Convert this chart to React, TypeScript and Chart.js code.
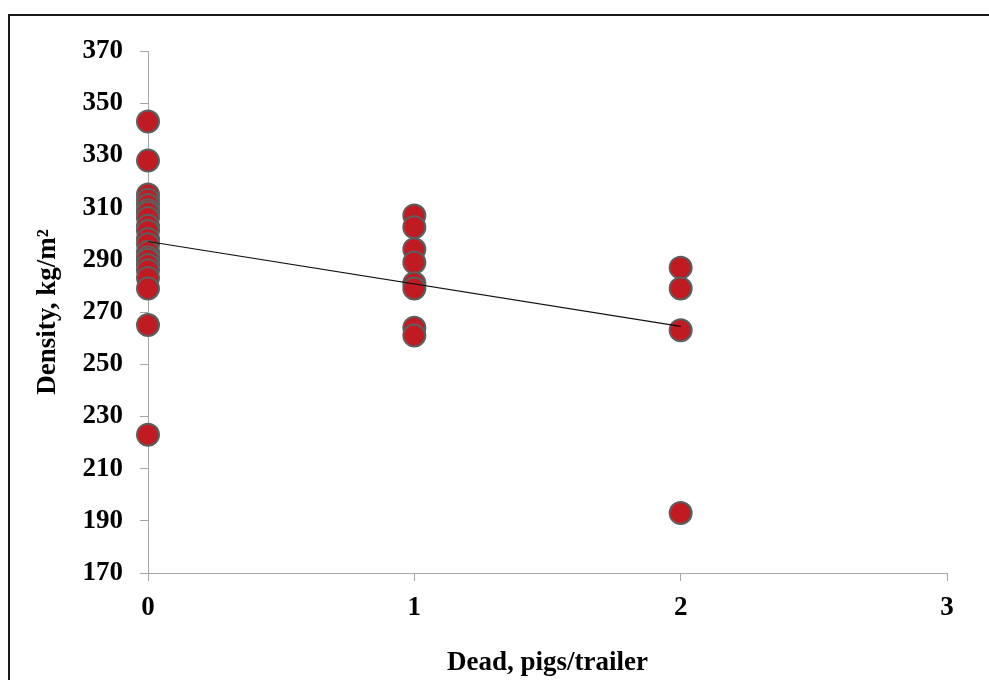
import React, { useEffect, useRef } from "react";
import { Chart, registerables } from "chart.js";

Chart.register(...registerables);

// Dead pigs per trailer (x) vs loading density (y)
const deadAt0: number[] = [343, 328, 315, 313, 311, 309, 308, 306, 303, 301, 298, 296, 293, 291, 290, 288, 286, 283, 279, 265, 223];
const deadAt1: number[] = [307, 302.5, 294, 289, 281, 279, 264, 261];
const deadAt2: number[] = [287, 279, 263, 193];
const trendX: number[] = [0, 2];
const trendY: number[] = [297, 264.5];
const xTicks: number[] = [0, 1, 2, 3];
const yTicks: number[] = [170, 190, 210, 230, 250, 270, 290, 310, 330, 350, 370];

const serif = "'Liberation Serif', 'Times New Roman', serif";

export default function App() {
  const ref = useRef<HTMLCanvasElement | null>(null);

  useEffect(() => {
    if (!ref.current) return;
    const pts = [
      ...deadAt0.map((y) => ({ x: 0, y })),
      ...deadAt1.map((y) => ({ x: 1, y })),
      ...deadAt2.map((y) => ({ x: 2, y })),
    ];
    const trend = trendX.map((x, i) => ({ x, y: trendY[i] }));
    const chart = new Chart(ref.current, {
      type: "scatter",
      data: {
        datasets: [
          {
            type: "line",
            data: trend,
            borderColor: "#111111",
            borderWidth: 1.2,
            pointRadius: 0,
            showLine: true,
            fill: false,
            clip: false as any,
          },
          {
            data: pts,
            backgroundColor: "#C01A22",
            borderColor: "#5E5E5E",
            borderWidth: 2,
            pointRadius: 11,
            clip: false as any,
          },
        ],
      },
      options: {
        animation: false,
        responsive: false,
        maintainAspectRatio: false,
        layout: { padding: { left: 0, top: 51, right: 42, bottom: 0 } },
        plugins: { legend: { display: false }, tooltip: { enabled: false } },
        scales: {
          x: {
            type: "linear",
            min: 0,
            max: 3,
            afterBuildTicks: (axis: any) => {
              axis.ticks = xTicks.map((v) => ({ value: v }));
            },
            afterFit: (axis: any) => {
              axis.height = 107;
            },
            grid: {
              drawOnChartArea: false,
              drawTicks: true,
              tickLength: 8,
              color: "#A6A6A6",
            },
            border: { color: "#A6A6A6", width: 1 },
            ticks: {
              color: "#000",
              padding: 11,
              font: { family: serif, size: 27, weight: "bold" },
            },
            title: {
              display: true,
              text: "Dead, pigs/trailer",
              color: "#000",
              padding: { top: 20, bottom: 1 },
              font: { family: serif, size: 27, weight: "bold" },
            },
          },
          y: {
            type: "linear",
            min: 170,
            max: 370,
            afterBuildTicks: (axis: any) => {
              axis.ticks = yTicks.map((v) => ({ value: v }));
            },
            afterFit: (axis: any) => {
              axis.width = 148;
            },
            grid: {
              drawOnChartArea: false,
              drawTicks: true,
              tickLength: 8,
              color: "#A6A6A6",
            },
            border: { color: "#A6A6A6", width: 1 },
            ticks: {
              color: "#000",
              padding: 17,
              font: { family: serif, size: 27, weight: "bold" },
            },
            title: {
              display: true,
              text: "Density, kg/m²",
              color: "#000",
              padding: { top: 32, bottom: 0 },
              font: { family: serif, size: 27, weight: "bold" },
            },
          },
        },
      },
    });
    return () => chart.destroy();
  }, []);

  return (
    <div>
      <div
        style={{
          position: "fixed",
          left: 0,
          top: 0,
          width: 989,
          height: 680,
          background: "#fff",
        }}
      >
        <canvas ref={ref} width={989} height={680} style={{ display: "block" }} />
      </div>
      <div
        style={{
          position: "fixed",
          left: 8,
          top: 14,
          width: 1200,
          height: 1000,
          borderTop: "2px solid #1a1a1a",
          borderLeft: "2px solid #1a1a1a",
          pointerEvents: "none",
        }}
      />
    </div>
  );
}
